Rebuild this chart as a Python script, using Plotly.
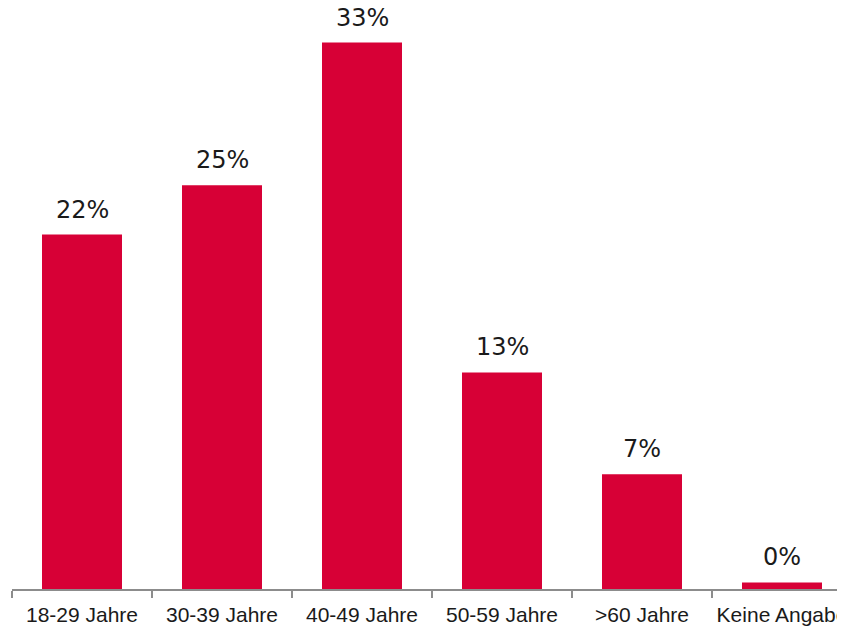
import plotly.graph_objects as go

categories = ["18-29 Jahre", "30-39 Jahre", "40-49 Jahre", "50-59 Jahre", ">60 Jahre", "Keine Angabe"]
values = [21.6, 24.6, 33.3, 13.2, 7.0, 0.4]
labels = ["22%", "25%", "33%", "13%", "7%", "0%"]

BAR_COLOR = "#D70036"
AXIS_COLOR = "#8C8C8C"

fig = go.Figure()
fig.add_trace(go.Bar(
    x=categories,
    y=values,
    marker=dict(color=BAR_COLOR, line=dict(width=0)),
    hoverinfo="skip",
))

for c, v, t in zip(categories, values, labels):
    fig.add_annotation(
        x=c, y=v, text=t, showarrow=False,
        xref="x", yref="y", yanchor="bottom", yshift=9,
        font=dict(family="DejaVu Sans", size=24, color="#1a1a1a"),
    )

# page body has an 8px default margin, so the figure is shrunk to fit the window
W, H = 837, 619
ml, mb = 4, 38
plot_w = W - ml
cat_px = 140
fig.update_layout(
    width=W, height=H,
    margin=dict(l=ml, r=0, t=0, b=mb, autoexpand=False),
    paper_bgcolor="white", plot_bgcolor="white",
    bargap=60 / 140,
    showlegend=False,
    xaxis=dict(
        type="category",
        range=[-0.5, -0.5 + plot_w / cat_px],
        showline=True, linecolor=AXIS_COLOR, linewidth=2,
        ticks="outside", tickson="boundaries", ticklen=7,
        tickcolor=AXIS_COLOR, tickwidth=2,
        ticklabelstandoff=6,
        showgrid=False, zeroline=False, automargin=False,
        tickfont=dict(family="Liberation Sans, Arial", size=21, color="#1a1a1a"),
        fixedrange=True,
    ),
    yaxis=dict(
        range=[0, (H - mb) / 16.41],
        visible=False, showgrid=False, zeroline=False,
        fixedrange=True, automargin=False,
    ),
)

fig.write_html("out.html", config={"displayModeBar": False})
